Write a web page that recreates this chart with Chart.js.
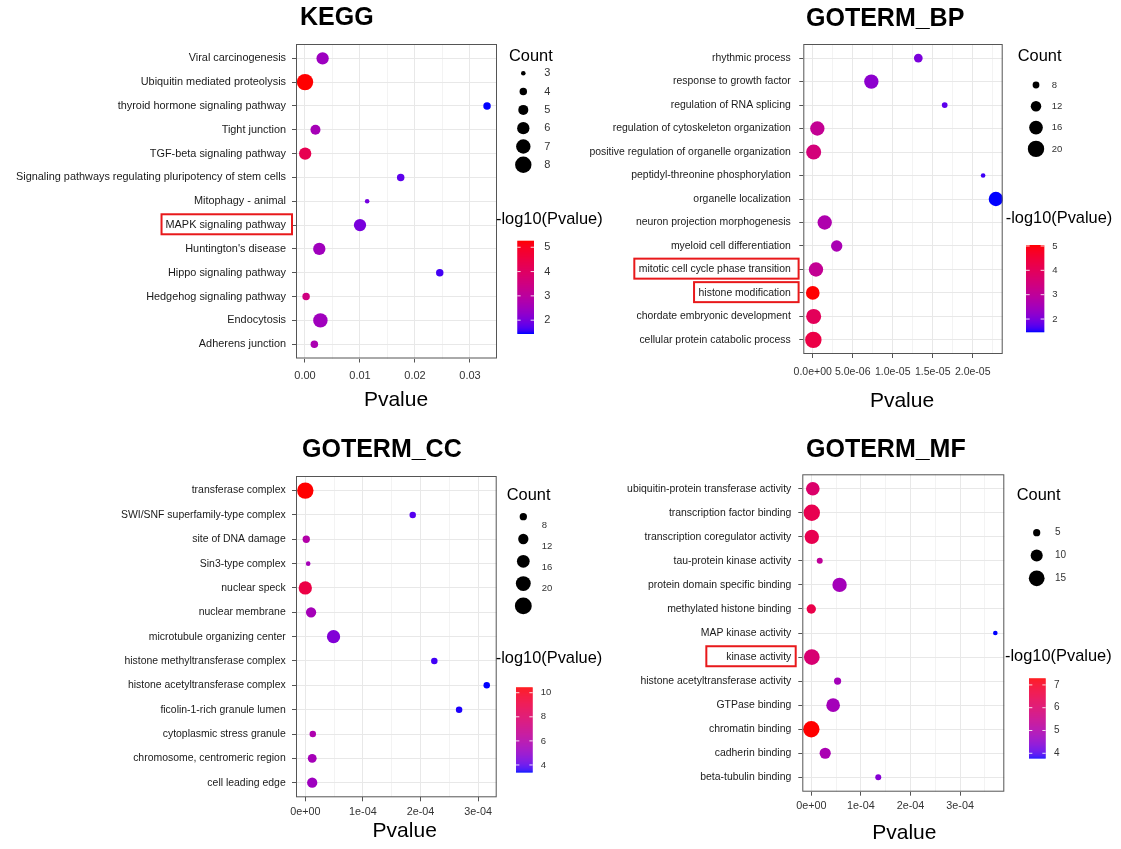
<!DOCTYPE html>
<html>
<head>
<meta charset="utf-8">
<script src="https://cdn.jsdelivr.net/npm/chart.js@4.4.1/dist/chart.umd.min.js"></script>
<style>
html, body { margin: 0; padding: 0; background: #fff; }
#wrap { position: relative; width: 1121px; height: 849px; }
#wrap canvas { position: absolute; left: 0; top: 0; }
</style>
</head>
<body>
<div id="wrap">
  <canvas id="kegg" width="1121" height="849"></canvas>
  <canvas id="bp" width="1121" height="849"></canvas>
  <canvas id="cc" width="1121" height="849"></canvas>
  <canvas id="mf" width="1121" height="849"></canvas>
</div>
<script>
// ---- KEGG ----
var keggTerms = ["Viral carcinogenesis", "Ubiquitin mediated proteolysis", "thyroid hormone signaling pathway",
  "Tight junction", "TGF-beta signaling pathway", "Signaling pathways regulating pluripotency of stem cells",
  "Mitophagy - animal", "MAPK signaling pathway", "Huntington's disease", "Hippo signaling pathway",
  "Hedgehog signaling pathway", "Endocytosis", "Adherens junction"];
var keggPvalue = [0.0032, 0.000005, 0.0331, 0.0019, 0.00003, 0.0174, 0.0113, 0.0100, 0.0026, 0.0245, 0.0002, 0.0028, 0.0017];
var keggCount = [6, 8, 4, 5, 6, 4, 3, 6, 6, 4, 4, 7, 4];
var keggLogP = [2.45, 5.27, 1.46, 2.6, 4.3, 1.76, 1.95, 2.0, 2.5, 1.61, 3.5, 2.5, 2.7];
var keggXTicks = [0, 0.01, 0.02, 0.03];
var keggXTickLabels = ["0.00", "0.01", "0.02", "0.03"];
var keggXMinor = [0.005, 0.015, 0.025];
var keggCountBreaks = [3, 4, 5, 6, 7, 8];
var keggCountLabels = ["3", "4", "5", "6", "7", "8"];
var keggColorBreaks = [2, 3, 4, 5];

// ---- GOTERM_BP ----
var bpTerms = ["rhythmic process", "response to growth factor", "regulation of RNA splicing",
  "regulation of cytoskeleton organization", "positive regulation of organelle organization",
  "peptidyl-threonine phosphorylation", "organelle localization", "neuron projection morphogenesis",
  "myeloid cell differentiation", "mitotic cell cycle phase transition", "histone modification",
  "chordate embryonic development", "cellular protein catabolic process"];
var bpPvalue = [1.32e-5, 7.33e-6, 1.65e-5, 5.8e-7, 1.2e-7, 2.13e-5, 2.29e-5, 1.5e-6, 3.0e-6, 4.1e-7, 1e-8, 1.2e-7, 8e-8];
var bpCount = [10, 17, 7, 17, 18, 6, 17, 17, 13, 17, 16, 18, 20];
var bpLogP = [2.0, 2.2, 1.75, 3.1, 3.5, 1.6, 1.48, 2.7, 2.6, 3.1, 5.04, 4.0, 4.3];
var bpXTicks = [0, 5e-6, 1e-5, 1.5e-5, 2e-5];
var bpXTickLabels = ["0.0e+00", "5.0e-06", "1.0e-05", "1.5e-05", "2.0e-05"];
var bpXMinor = [2.5e-6, 7.5e-6, 1.25e-5, 1.75e-5, 2.25e-5];
var bpCountBreaks = [8, 12, 16, 20];
var bpCountLabels = ["8", "12", "16", "20"];
var bpColorBreaks = [2, 3, 4, 5];

// ---- GOTERM_CC ----
var ccTerms = ["transferase complex", "SWI/SNF superfamily-type complex", "site of DNA damage",
  "Sin3-type complex", "nuclear speck", "nuclear membrane", "microtubule organizing center",
  "histone methyltransferase complex", "histone acetyltransferase complex", "ficolin-1-rich granule lumen",
  "cytoplasmic stress granule", "chromosome, centromeric region", "cell leading edge"];
var ccPvalue = [0, 1.865e-4, 0.017e-4, 0.05e-4, 0, 0.10e-4, 0.49e-4, 2.24e-4, 3.15e-4, 2.67e-4, 0.13e-4, 0.12e-4, 0.12e-4];
var ccCount = [23, 7, 8, 5, 17, 12, 17, 7, 7, 7, 7, 10, 12];
var ccLogP = [10.45, 3.9, 6.0, 5.5, 9.0, 5.5, 4.6, 3.7, 3.44, 3.5, 5.8, 5.5, 5.3];
var ccXTicks = [0, 1e-4, 2e-4, 3e-4];
var ccXTickLabels = ["0e+00", "1e-04", "2e-04", "3e-04"];
var ccXMinor = [0.5e-4, 1.5e-4, 2.5e-4];
var ccCountBreaks = [8, 12, 16, 20, 24];
var ccCountLabels = ["8", "12", "16", "20", ""];
var ccColorBreaks = [4, 6, 8, 10];

// ---- GOTERM_MF ----
var mfTerms = ["ubiquitin-protein transferase activity", "transcription factor binding",
  "transcription coregulator activity", "tau-protein kinase activity", "protein domain specific binding",
  "methylated histone binding", "MAP kinase activity", "kinase activity", "histone acetyltransferase activity",
  "GTPase binding", "chromatin binding", "cadherin binding", "beta-tubulin binding"];
var mfPvalue = [0.03e-4, 0.01e-4, 0.01e-4, 0.17e-4, 0.57e-4, 0.0, 3.71e-4, 0.01e-4, 0.53e-4, 0.44e-4, 0.0, 0.28e-4, 1.35e-4];
var mfCount = [12, 16, 13, 4, 13, 7, 3, 15, 5, 12, 16, 9, 4];
var mfLogP = [6.0, 6.4, 6.4, 5.3, 4.8, 6.5, 3.78, 5.9, 4.8, 4.8, 7.29, 4.9, 4.4];
var mfXTicks = [0, 1e-4, 2e-4, 3e-4];
var mfXTickLabels = ["0e+00", "1e-04", "2e-04", "3e-04"];
var mfXMinor = [0.5e-4, 1.5e-4, 2.5e-4, 3.5e-4];
var mfCountBreaks = [5, 10, 15];
var mfCountLabels = ["5", "10", "15"];
var mfColorBreaks = [4, 5, 6, 7];

var FONT = "'Liberation Sans', Arial, Helvetica, sans-serif";
var W = 1121, H = 849, YW = 290, XH = 40;
var R_MIN = 2.3, R_MAX = 8.2;

// blue -> red gradient interpolated in Lab, like ggplot
function lin(c) { c /= 255; return c <= 0.04045 ? c / 12.92 : Math.pow((c + 0.055) / 1.055, 2.4); }
function unlin(c) {
  c = c <= 0.0031308 ? 12.92 * c : 1.055 * Math.pow(c, 1 / 2.4) - 0.055;
  return Math.max(0, Math.min(255, Math.round(c * 255)));
}
function toLab(rgb) {
  var r = lin(rgb[0]), g = lin(rgb[1]), b = lin(rgb[2]);
  var x = (0.4124564 * r + 0.3575761 * g + 0.1804375 * b) / 0.95047;
  var y = 0.2126729 * r + 0.7151522 * g + 0.0721750 * b;
  var z = (0.0193339 * r + 0.1191920 * g + 0.9503041 * b) / 1.08883;
  function f(t) { return t > 0.008856 ? Math.cbrt(t) : 7.787 * t + 16 / 116; }
  return [116 * f(y) - 16, 500 * (f(x) - f(y)), 200 * (f(y) - f(z))];
}
function fromLab(lab) {
  var fy = (lab[0] + 16) / 116, fx = fy + lab[1] / 500, fz = fy - lab[2] / 200;
  function fi(t) { return t > 0.206893 ? t * t * t : (t - 16 / 116) / 7.787; }
  var x = fi(fx) * 0.95047, y = fi(fy), z = fi(fz) * 1.08883;
  var r = 3.2404542 * x - 1.5371385 * y - 0.4985314 * z;
  var g = -0.9692660 * x + 1.8760108 * y + 0.0415560 * z;
  var b = 0.0556434 * x - 0.2040259 * y + 1.0572252 * z;
  return "rgb(" + unlin(r) + "," + unlin(g) + "," + unlin(b) + ")";
}
var LOW = toLab([0, 0, 255]), HIGH = toLab([255, 0, 0]);
function ramp(t) {
  t = Math.max(0, Math.min(1, t));
  return fromLab([LOW[0] + (HIGH[0] - LOW[0]) * t, LOW[1] + (HIGH[1] - LOW[1]) * t, LOW[2] + (HIGH[2] - LOW[2]) * t]);
}

function makePanel(id, p, L) {
  var a = L.area;
  var vmin = Math.min.apply(null, p.logp), vmax = Math.max.apply(null, p.logp);
  var cmin = Math.min.apply(null, p.count), cmax = Math.max.apply(null, p.count);
  function colourFor(v) { return ramp((v - vmin) / (vmax - vmin)); }
  function sizeFor(c) {
    return R_MIN + (R_MAX - R_MIN) * (Math.sqrt(c) - Math.sqrt(cmin)) / (Math.sqrt(cmax) - Math.sqrt(cmin));
  }
  var xTickObjs = p.xTicks.map(function (v, k) { return { value: v, k: k }; })
    .concat(p.xMinor.map(function (v) { return { value: v, minor: true }; }))
    .sort(function (u, w) { return u.value - w.value; });

  var decor = {
    id: "decor",
    afterDraw: function (chart) {
      var ctx = chart.ctx, ca = chart.chartArea, ys = chart.scales.y;
      ctx.save();
      // panel border
      ctx.strokeStyle = "#555";
      ctx.lineWidth = 1;
      ctx.strokeRect(ca.left + 0.5, ca.top + 0.5, ca.right - ca.left - 1, ca.bottom - ca.top - 1);
      // title
      ctx.fillStyle = "#000";
      ctx.textBaseline = "middle";
      ctx.textAlign = "left";
      ctx.font = "bold 25px " + FONT;
      ctx.fillText(p.title, L.titleX, L.titleY);
      // x axis title
      ctx.textAlign = "center";
      ctx.font = "21px " + FONT;
      ctx.fillText("Pvalue", L.xTitleX, L.xTitleY);
      // highlight boxes around labels
      ctx.font = L.yFont + "px " + FONT;
      ctx.strokeStyle = "#e8191b";
      ctx.lineWidth = 2;
      L.highlights.forEach(function (h) {
        var yy = ys.getPixelForValue(h.row) - 0.8;
        var tw = ctx.measureText(p.terms[h.row]).width;
        var textRight = ca.left - 4 - L.yPad;
        var left = textRight - tw - h.padLeft, right = ca.left - h.gap;
        ctx.strokeRect(left, yy - 10, right - left, 20);
      });
      // Count legend
      ctx.textAlign = "left";
      ctx.font = "16.4px " + FONT;
      ctx.fillStyle = "#000";
      ctx.fillText("Count", L.countX, L.countY);
      p.countBreaks.forEach(function (c, i) {
        var cy = L.countRow0 + i * L.countStep;
        ctx.beginPath();
        ctx.arc(L.countCx, cy, sizeFor(c), 0, Math.PI * 2);
        ctx.fill();
      });
      ctx.font = L.legFont + "px " + FONT;
      ctx.fillStyle = "#333";
      p.countLabels.forEach(function (s, i) {
        var ly = (L.countLabelY0 !== undefined ? L.countLabelY0 + i * L.countLabelStep : L.countRow0 + i * L.countStep);
        ctx.fillText(s, L.countLabelX, ly);
      });
      // colour bar legend
      ctx.fillStyle = "#000";
      ctx.font = "16.4px " + FONT;
      ctx.fillText("-log10(Pvalue)", L.logX, L.logY);
      var b = L.bar;
      for (var yy = b.top; yy < b.bottom; yy += 1) {
        var v = vmin + (b.bottom - yy - 0.5) / (b.bottom - b.top) * (vmax - vmin);
        ctx.fillStyle = colourFor(v);
        ctx.fillRect(b.x, yy, b.w, 1.3);
      }
      ctx.strokeStyle = "rgba(255,255,255,0.85)";
      ctx.lineWidth = 1;
      ctx.font = L.legFont + "px " + FONT;
      p.colorBreaks.forEach(function (v) {
        var ty = b.bottom - (v - vmin) / (vmax - vmin) * (b.bottom - b.top);
        ctx.beginPath();
        ctx.moveTo(b.x, ty); ctx.lineTo(b.x + b.w / 5, ty);
        ctx.moveTo(b.x + b.w * 4 / 5, ty); ctx.lineTo(b.x + b.w, ty);
        ctx.stroke();
        ctx.fillStyle = "#333";
        ctx.fillText(String(v), b.labelX, ty);
      });
      ctx.restore();
    }
  };

  return new Chart(document.getElementById(id), {
    type: "bubble",
    data: {
      datasets: [{
        data: p.terms.map(function (t, i) { return { x: p.pvalue[i], y: i }; }),
        backgroundColor: function (c) { return colourFor(p.logp[c.dataIndex]); },
        radius: function (c) { return sizeFor(p.count[c.dataIndex]); },
        borderWidth: 0,
        hoverRadius: 0,
        hoverBorderWidth: 0
      }]
    },
    options: {
      responsive: false,
      animation: false,
      events: [],
      layout: { padding: { left: a.l - YW, right: W - a.r, top: a.t, bottom: H - a.b - XH } },
      plugins: { legend: { display: false }, tooltip: { enabled: false } },
      scales: {
        x: {
          type: "linear",
          min: L.xMin, max: L.xMax, bounds: "data",
          afterFit: function (s) { s.height = XH; },
          afterBuildTicks: function (s) { s.ticks = xTickObjs.map(function (t) { return Object.assign({}, t); }); },
          ticks: {
            autoSkip: false, maxRotation: 0, minRotation: 0, padding: L.xPad, color: "#333",
            font: { family: FONT, size: L.xFont },
            callback: function (value, index, ticks) {
              var t = ticks[index];
              return t.minor ? "" : p.xTickLabels[t.k];
            }
          },
          grid: {
            color: function (c) { return c.tick && c.tick.minor ? "#f3f3f3" : "#e8e8e8"; },
            tickColor: function (c) { return c.tick && c.tick.minor ? "rgba(0,0,0,0)" : "#555"; },
            tickLength: 4, lineWidth: 1
          },
          border: { display: false }
        },
        y: {
          type: "linear",
          reverse: true,
          min: -0.6, max: p.terms.length - 0.4, bounds: "data",
          afterFit: function (s) { s.width = YW; },
          afterBuildTicks: function (s) { s.ticks = p.terms.map(function (t, i) { return { value: i }; }); },
          ticks: {
            autoSkip: false, padding: L.yPad, color: "#1a1a1a",
            font: { family: FONT, size: L.yFont },
            callback: function (value) { return p.terms[value]; }
          },
          grid: { color: "#e8e8e8", tickColor: "#555", tickLength: 4, lineWidth: 1 },
          border: { display: false }
        }
      }
    },
    plugins: [decor]
  });
}

makePanel("kegg", {
  title: "KEGG", terms: keggTerms, pvalue: keggPvalue, count: keggCount, logp: keggLogP,
  xTicks: keggXTicks, xTickLabels: keggXTickLabels, xMinor: keggXMinor,
  countBreaks: keggCountBreaks, countLabels: keggCountLabels, colorBreaks: keggColorBreaks
}, {
  area: { l: 296, r: 497, t: 44, b: 358.5 }, xMin: -0.0016364, xMax: 0.03491,
  titleX: 300, titleY: 18.5, xTitleX: 396, xTitleY: 400,
  yFont: 10.9, yPad: 6, xFont: 11, xPad: 7,
  highlights: [{ row: 7, padLeft: 4, gap: 4 }],
  countX: 509, countY: 56.7, countCx: 523.3, countRow0: 73.3, countStep: 18.3, countLabelX: 544.3, legFont: 11,
  logX: 496, logY: 219.3, bar: { x: 517.3, w: 16.7, top: 240.7, bottom: 333.3, labelX: 544.3 }
});

makePanel("bp", {
  title: "GOTERM_BP", terms: bpTerms, pvalue: bpPvalue, count: bpCount, logp: bpLogP,
  xTicks: bpXTicks, xTickLabels: bpXTickLabels, xMinor: bpXMinor,
  countBreaks: bpCountBreaks, countLabels: bpCountLabels, colorBreaks: bpColorBreaks
}, {
  area: { l: 803.3, r: 1002.7, t: 44, b: 354 }, xMin: -1.175e-6, xMax: 23.75e-6,
  titleX: 806, titleY: 19.5, xTitleX: 902, xTitleY: 401.7,
  yFont: 10.45, yPad: 8.5, xFont: 10.5, xPad: 8,
  highlights: [{ row: 9, padLeft: 4.5, gap: 4.7 }, { row: 10, padLeft: 4.5, gap: 4.7 }],
  countX: 1017.7, countY: 56, countCx: 1036, countRow0: 85, countStep: 21.3, countLabelX: 1051.7, legFont: 9.5,
  logX: 1005.7, logY: 218.3, bar: { x: 1026, w: 18.3, top: 245, bottom: 331.7, labelX: 1052.3 }
});

makePanel("cc", {
  title: "GOTERM_CC", terms: ccTerms, pvalue: ccPvalue, count: ccCount, logp: ccLogP,
  xTicks: ccXTicks, xTickLabels: ccXTickLabels, xMinor: ccXMinor,
  countBreaks: ccCountBreaks, countLabels: ccCountLabels, colorBreaks: ccColorBreaks
}, {
  area: { l: 296, r: 496.7, t: 476, b: 797.3 }, xMin: -0.1615e-4, xMax: 3.323e-4,
  titleX: 302, titleY: 450, xTitleX: 404.7, xTitleY: 831.7,
  yFont: 10.45, yPad: 6.3, xFont: 10.8, xPad: 4,
  highlights: [],
  countX: 506.7, countY: 495, countCx: 523.3, countRow0: 516.7, countStep: 22.3, countLabelX: 541.7,
  countLabelY0: 525.7, countLabelStep: 20.9, legFont: 9.5,
  logX: 495.7, logY: 658.3, bar: { x: 516, w: 16.7, top: 687.3, bottom: 771.7, labelX: 540.7 }
});

makePanel("mf", {
  title: "GOTERM_MF", terms: mfTerms, pvalue: mfPvalue, count: mfCount, logp: mfLogP,
  xTicks: mfXTicks, xTickLabels: mfXTickLabels, xMinor: mfXMinor,
  countBreaks: mfCountBreaks, countLabels: mfCountLabels, colorBreaks: mfColorBreaks
}, {
  area: { l: 802.3, r: 1004.3, t: 474.3, b: 791.7 }, xMin: -0.1815e-4, xMax: 3.891e-4,
  titleX: 806, titleY: 450, xTitleX: 904.3, xTitleY: 833.3,
  yFont: 10.45, yPad: 7, xFont: 10.8, xPad: 3.5,
  highlights: [{ row: 7, padLeft: 20, gap: 6.6 }],
  countX: 1016.7, countY: 495, countCx: 1036.7, countRow0: 532.7, countStep: 22.8, countLabelX: 1055, legFont: 10,
  logX: 1005, logY: 656.7, bar: { x: 1029, w: 16.7, top: 678.3, bottom: 758.3, labelX: 1054 }
});
</script>
</body>
</html>
